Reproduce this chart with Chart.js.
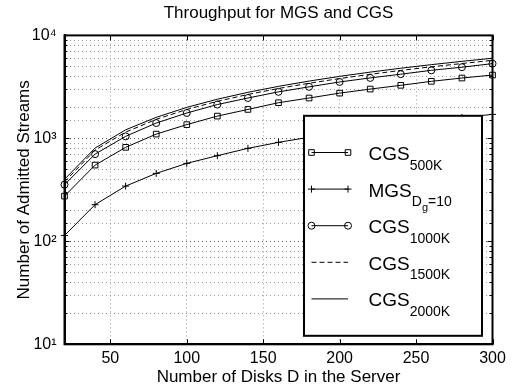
<!DOCTYPE html>
<html>
<head>
<meta charset="utf-8">
<script src="https://cdn.jsdelivr.net/npm/chart.js@4.4.1/dist/chart.umd.min.js"></script>
<style>
  html, body { margin: 0; padding: 0; background: #fff; }
  canvas { display: block; }
</style>
</head>
<body>
<canvas id="chart" width="520" height="389"></canvas>
<script>
// number of disks in the server
const disks = [20, 40, 60, 80, 100, 120, 140, 160, 180, 200, 220, 240, 260, 280, 300];

// admitted streams
const cgs500  = [275, 550, 818, 1100, 1360, 1645, 1910, 2220, 2465, 2750, 3010, 3275, 3580, 3855, 4120];
const mgsDg10 = [114, 227, 344, 457, 572, 679, 800, 915, 1025, 1140, 1255, 1370, 1480, 1595, 1710];
const cgs1000 = [355, 703, 1046, 1409, 1763, 2130, 2466, 2830, 3165, 3530, 3865, 4200, 4580, 4910, 5320];
const cgs1500 = [378, 770, 1150, 1530, 1910, 2290, 2670, 3050, 3430, 3810, 4190, 4570, 4950, 5330, 5730];
const cgs2000 = [400, 805, 1210, 1600, 2000, 2400, 2800, 3200, 3600, 4000, 4400, 4800, 5200, 5600, 6000];

const xTicks = [50, 100, 150, 200, 250, 300];
const yTicks = [10, 100, 1000, 10000];
const yTickLabels = ['10\u00B9', '10\u00B2', '10\u00B3', '10\u2074'];

// legend text: [main, subscript, sub-subscript, rest of subscript]
const legendLabels = [
  ['CGS', '500K'],
  ['MGS', 'D', 'g', '=10'],
  ['CGS', '1000K'],
  ['CGS', '1500K'],
  ['CGS', '2000K']
];

const FONT = '"Liberation Sans", Arial, Helvetica, sans-serif';

const toPoints = ys => ys.map((y, i) => ({ x: disks[i], y: y }));

// box round the plot and inward tick marks, like matlab
const framePlugin = {
  id: 'frame',
  afterDatasetsDraw(chart) {
    const { ctx, chartArea: a, scales } = chart;
    ctx.save();
    ctx.strokeStyle = '#000';
    ctx.lineWidth = 1;
    ctx.beginPath();
    scales.x.ticks.forEach(t => {
      const px = Math.round(scales.x.getPixelForValue(t.value)) + 0.5;
      ctx.moveTo(px, a.bottom); ctx.lineTo(px, a.bottom - 5);
      ctx.moveTo(px, a.top); ctx.lineTo(px, a.top + 5);
    });
    scales.y.ticks.forEach(t => {
      const py = Math.round(scales.y.getPixelForValue(t.value)) + 0.5;
      const len = yTicks.includes(t.value) ? 5 : 3;
      ctx.moveTo(a.left, py); ctx.lineTo(a.left + len, py);
      ctx.moveTo(a.right, py); ctx.lineTo(a.right - len, py);
    });
    ctx.stroke();
    ctx.lineWidth = 2;
    ctx.strokeRect(a.left, a.top, a.right - a.left, a.bottom - a.top);
    ctx.restore();
  }
};

function drawMarker(ctx, style, x, y) {
  ctx.beginPath();
  if (style === 'rect') {
    ctx.rect(x - 2.8, y - 2.8, 5.6, 5.6);
  } else if (style === 'cross') {
    ctx.moveTo(x - 3.5, y); ctx.lineTo(x + 3.5, y);
    ctx.moveTo(x, y - 3.5); ctx.lineTo(x, y + 3.5);
  } else if (style === 'circle') {
    ctx.arc(x, y, 3.5, 0, Math.PI * 2);
  }
  ctx.stroke();
}

// matlab-like legend box with subscripts
const legendPlugin = {
  id: 'subLegend',
  afterDraw(chart) {
    const { ctx, chartArea: a } = chart;
    const right = a.right - 10.5, bottom = a.bottom - 8.5;
    const left = right - 178, top = bottom - 220;
    ctx.save();
    ctx.fillStyle = '#fff';
    ctx.fillRect(left, top, right - left, bottom - top);
    ctx.lineWidth = 2;
    ctx.strokeStyle = '#000';
    ctx.strokeRect(left, top, right - left, bottom - top);

    chart.data.datasets.forEach((ds, i) => {
      const y = top + 36.7 + i * 36.6;
      const x1 = left + 7.5, x2 = left + 44;
      ctx.lineWidth = 1;
      ctx.strokeStyle = '#000';
      ctx.setLineDash(ds.borderDash || []);
      ctx.beginPath();
      ctx.moveTo(x1, y); ctx.lineTo(x2, y);
      ctx.stroke();
      ctx.setLineDash([]);
      if (ds.pointRadius > 0) {
        drawMarker(ctx, ds.pointStyle, x1, y);
        drawMarker(ctx, ds.pointStyle, x2, y);
      }
      const parts = legendLabels[i];
      ctx.fillStyle = '#000';
      ctx.textBaseline = 'alphabetic';
      let tx = left + 64.5;
      ctx.font = '19px ' + FONT;
      ctx.fillText(parts[0], tx, y + 7.5);
      tx += ctx.measureText(parts[0]).width;
      ctx.font = '14px ' + FONT;
      ctx.fillText(parts[1], tx, y + 17);
      tx += ctx.measureText(parts[1]).width;
      if (parts.length > 2) {
        ctx.font = '11px ' + FONT;
        ctx.fillText(parts[2], tx, y + 22);
        tx += ctx.measureText(parts[2]).width;
        ctx.font = '14px ' + FONT;
        ctx.fillText(parts[3], tx, y + 17);
      }
    });
    ctx.restore();
  }
};

const lineStyle = {
  borderColor: '#000',
  borderWidth: 1,
  pointBorderColor: '#000',
  pointBackgroundColor: 'rgba(0,0,0,0)',
  pointBorderWidth: 1,
  tension: 0,
  fill: false,
  clip: false
};

new Chart(document.getElementById('chart'), {
  type: 'line',
  data: {
    datasets: [
      { ...lineStyle, label: 'CGS 500K', data: toPoints(cgs500), pointStyle: 'rect', pointRadius: 4 },
      { ...lineStyle, label: 'MGS Dg=10', data: toPoints(mgsDg10), pointStyle: 'cross', pointRadius: 3.5 },
      { ...lineStyle, label: 'CGS 1000K', data: toPoints(cgs1000), pointStyle: 'circle', pointRadius: 3.5 },
      { ...lineStyle, label: 'CGS 1500K', data: toPoints(cgs1500), pointRadius: 0, borderDash: [5, 3] },
      { ...lineStyle, label: 'CGS 2000K', data: toPoints(cgs2000), pointRadius: 0 }
    ]
  },
  options: {
    responsive: false,
    animation: false,
    devicePixelRatio: 1,
    layout: { padding: { left: 0, right: 27.5, top: 0, bottom: 0 } },
    plugins: {
      legend: { display: false },
      tooltip: { enabled: false },
      title: {
        display: true,
        text: 'Throughput for MGS and CGS',
        fullSize: false,
        color: '#000',
        font: { family: FONT, size: 17, weight: 'normal' },
        padding: { top: 3, bottom: 12 }
      }
    },
    scales: {
      x: {
        type: 'linear',
        min: 20,
        max: 300,
        afterBuildTicks: s => { s.ticks = xTicks.map(v => ({ value: v })); },
        afterFit: s => { s.height = 44.7; },
        grid: {
          drawTicks: false,
          color: '#9a9a9a',
          lineWidth: 1
        },
        border: { display: true, color: '#000', width: 2, dash: [1, 3] },
        ticks: {
          color: '#000',
          font: { family: FONT, size: 16 },
          padding: 5,
          maxRotation: 0,
          autoSkip: false
        },
        title: {
          display: true,
          text: 'Number of Disks D in the Server',
          color: '#000',
          font: { family: FONT, size: 17 },
          padding: { top: 0, bottom: 1 }
        }
      },
      y: {
        type: 'logarithmic',
        min: 10,
        max: 10000,
        afterFit: s => { s.width = 64.5; },
        grid: {
          drawTicks: false,
          color: ctx => yTicks.includes(ctx.tick && ctx.tick.value) ? '#555' : '#9a9a9a',
          lineWidth: 1
        },
        border: { display: true, color: '#000', width: 2, dash: [1, 3] },
        ticks: {
          color: '#000',
          font: { family: FONT, size: 16 },
          padding: 8,
          autoSkip: false,
          callback: v => {
            const k = yTicks.indexOf(v);
            return k >= 0 ? yTickLabels[k] : '';
          }
        },
        title: {
          display: true,
          text: 'Number of Admitted Streams',
          color: '#000',
          font: { family: FONT, size: 17 },
          padding: { top: 14, bottom: 0 }
        }
      }
    }
  },
  plugins: [framePlugin, legendPlugin]
});
</script>
</body>
</html>
